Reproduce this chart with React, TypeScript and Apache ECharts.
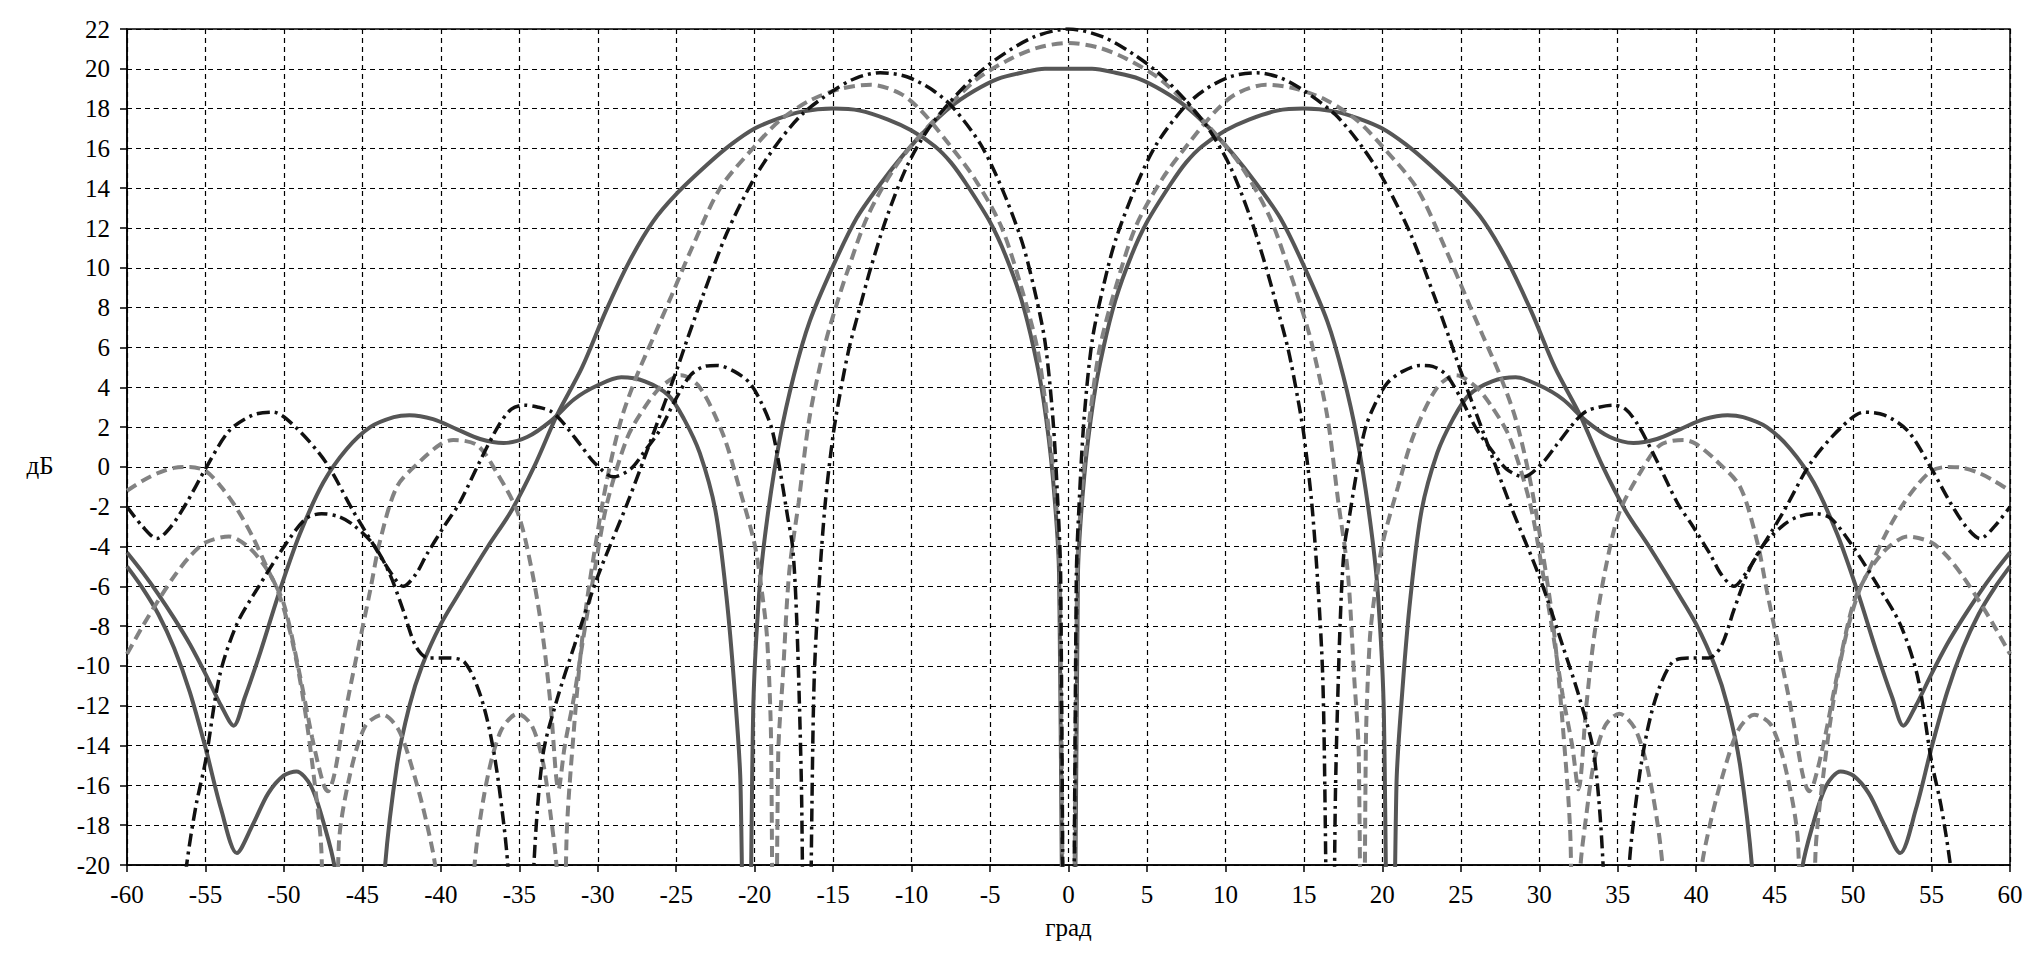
import React, { useEffect, useRef } from "react";
import * as echarts from "echarts";

// ---- data (x in degrees, y in dB) ----
const solidSumLeft = [[-60,-4.3],[-59,-5.3],[-58,-6.4],[-57,-7.6],[-56,-8.9],[-55,-10.4],[-54,-12.0],[-53.2,-13.0],[-52.5,-11.6],[-51.5,-9.3],[-50.3,-6.3],[-49,-3.4],[-47.5,-0.8],[-46,0.9],[-44.5,2.0],[-43,2.5],[-42,2.6],[-40.5,2.4],[-39,1.9],[-37.5,1.4],[-36,1.2],[-34.5,1.5],[-33,2.3],[-31.5,3.4],[-30,4.1],[-28.5,4.5],[-27,4.3],[-25.5,3.6],[-24.5,2.4],[-23.5,0.7],[-22.5,-2.2],[-21.8,-6.5],[-21.3,-11],[-20.9,-16],[-20.5,-40],[-20.1,-12.5],[-19.7,-6.2],[-19.2,-2.6],[-18.4,1.4],[-17.5,4.6],[-16.5,7.3],[-15,10.1],[-13.5,12.5],[-12,14.2],[-10.5,15.7],[-9,17.0],[-7.5,18.1],[-6,18.9],[-4.5,19.5],[-3,19.8],[-1.5,20.0],[0,20.0]];
const solidSumRight = [[1.5,20.0],[3,19.8],[4.5,19.5],[6,18.9],[7.5,18.1],[9,17.0],[10.5,15.7],[12,14.2],[13.5,12.5],[15,10.1],[16.5,7.3],[17.5,4.6],[18.4,1.4],[19.2,-2.6],[19.7,-6.2],[20.1,-12.5],[20.5,-40],[20.9,-16],[21.3,-11],[21.8,-6.5],[22.5,-2.2],[23.5,0.7],[24.5,2.4],[25.5,3.6],[27,4.3],[28.5,4.5],[30,4.1],[31.5,3.4],[33,2.3],[34.5,1.5],[36,1.2],[37.5,1.4],[39,1.9],[40.5,2.4],[42,2.6],[43,2.5],[44.5,2.0],[46,0.9],[47.5,-0.8],[49,-3.4],[50.3,-6.3],[51.5,-9.3],[52.5,-11.6],[53.2,-13.0],[54,-12.0],[55,-10.4],[56,-8.9],[57,-7.6],[58,-6.4],[59,-5.3],[60,-4.3]];

const solidDiffLeft = [[-60,-5.0],[-59,-6.1],[-58,-7.4],[-57,-9.1],[-56,-11.3],[-55,-14.1],[-54,-17.2],[-53,-19.4],[-52,-18.0],[-51,-16.4],[-50,-15.5],[-49.2,-15.3],[-48.3,-16.0],[-47.5,-17.8],[-46.7,-20.5],[-45.2,-40],[-43.6,-20.5],[-42.8,-15],[-42,-12],[-41.2,-10],[-40,-7.9],[-38.8,-6.3],[-37,-4.0],[-35.5,-2.2],[-34,0.1],[-32.6,2.6],[-31,5.0],[-29.5,7.8],[-28,10.3],[-26.5,12.3],[-25,13.7],[-23,15.2],[-21.5,16.2],[-20,17.0],[-18.5,17.5],[-17,17.85],[-15,18.0],[-13.3,17.9],[-11.5,17.45],[-10,16.9],[-8.5,16.1],[-7.5,15.3],[-6.5,14.2],[-5,12.3],[-4,10.6],[-3,8.4],[-2.2,5.9],[-1.6,3.4],[-1,-0.5],[-0.6,-5.5],[0,-60]];
const solidDiffRight = [[0.6,-5.5],[1,-0.5],[1.6,3.4],[2.2,5.9],[3,8.4],[4,10.6],[5,12.3],[6.5,14.2],[7.5,15.3],[8.5,16.1],[10,16.9],[11.5,17.45],[13.3,17.9],[15,18.0],[17,17.85],[18.5,17.5],[20,17.0],[21.5,16.2],[23,15.2],[25,13.7],[26.5,12.3],[28,10.3],[29.5,7.8],[31,5.0],[32.6,2.6],[34,0.1],[35.5,-2.2],[37,-4.0],[38.8,-6.3],[40,-7.9],[41.2,-10],[42,-12],[42.8,-15],[43.6,-20.5],[45.2,-40],[46.7,-20.5],[47.5,-17.8],[48.3,-16.0],[49.2,-15.3],[50,-15.5],[51,-16.4],[52,-18.0],[53,-19.4],[54,-17.2],[55,-14.1],[56,-11.3],[57,-9.1],[58,-7.4],[59,-6.1],[60,-5.0]];

const dashSumLeft = [[-60,-1.2],[-59,-0.7],[-58,-0.3],[-57,-0.05],[-56,0.0],[-55,-0.2],[-54,-1.0],[-53,-2.1],[-52,-3.5],[-51,-5.2],[-50,-6.9],[-49,-10.4],[-48.2,-13.6],[-47.5,-15.9],[-47.2,-16.3],[-46.8,-15.5],[-46.2,-12.8],[-45.6,-10.4],[-44.5,-6.2],[-43.9,-3.8],[-42.8,-1.0],[-41.3,0.3],[-40,1.15],[-39.2,1.35],[-37.7,1.1],[-36.5,-0.2],[-35.1,-2.3],[-34.2,-5.2],[-33.5,-8.5],[-33,-12],[-32.5,-16.2],[-32.1,-14],[-31.5,-11.5],[-30.9,-8.5],[-30.2,-5.2],[-29.4,-1.8],[-28.1,1.5],[-27,3.0],[-26,4.0],[-24.7,4.6],[-23.5,4.0],[-22,1.6],[-21,-1.0],[-20,-3.9],[-19.5,-6.5],[-19.2,-8.7],[-18.95,-14],[-18.75,-40],[-18.5,-14.5],[-18.2,-10.5],[-17.8,-5.3],[-17.2,-1.8],[-16.5,2.5],[-15.5,6.2],[-14.8,8.1],[-14.1,9.8],[-12.8,12.6],[-11.1,15.0],[-9.4,16.7],[-7.7,18.1],[-5.8,19.5],[-3.7,20.5],[-2,21.05],[0,21.3]];
const dashSumRight = [[2,21.05],[3.7,20.5],[5.8,19.5],[7.7,18.1],[9.4,16.7],[11.1,15.0],[12.8,12.6],[14.1,9.8],[14.8,8.1],[15.5,6.2],[16.5,2.5],[17.2,-1.8],[17.8,-5.3],[18.2,-10.5],[18.5,-14.5],[18.75,-40],[18.95,-14],[19.2,-8.7],[19.5,-6.5],[20,-3.9],[21,-1.0],[22,1.6],[23.5,4.0],[24.7,4.6],[26,4.0],[27,3.0],[28.1,1.5],[29.4,-1.8],[30.2,-5.2],[30.9,-8.5],[31.5,-11.5],[32.1,-14],[32.5,-16.2],[33,-12],[33.5,-8.5],[34.2,-5.2],[35.1,-2.3],[36.5,-0.2],[37.7,1.1],[39.2,1.35],[40,1.15],[41.3,0.3],[42.8,-1.0],[43.9,-3.8],[44.5,-6.2],[45.6,-10.4],[46.2,-12.8],[46.8,-15.5],[47.2,-16.3],[47.5,-15.9],[48.2,-13.6],[49,-10.4],[50,-6.9],[51,-5.2],[52,-3.5],[53,-2.1],[54,-1.0],[55,-0.2],[56,0.0],[57,-0.05],[58,-0.3],[59,-0.7],[60,-1.2]];

const dashDiffLeft = [[-60,-9.4],[-59,-8.0],[-58,-6.7],[-57,-5.5],[-56,-4.5],[-55,-3.8],[-53.5,-3.5],[-52.3,-4.0],[-51.3,-4.9],[-50.5,-6.0],[-49.6,-8.3],[-48.8,-11.5],[-48.1,-15.5],[-47.6,-19.5],[-47.1,-40],[-46.5,-19],[-45.8,-15.5],[-44.8,-13.0],[-43.7,-12.45],[-42.7,-13.2],[-41.8,-15.2],[-40.9,-17.9],[-40.3,-20.5],[-39.1,-40],[-37.9,-20.5],[-37.2,-16.3],[-36.2,-13.3],[-35.1,-12.4],[-34.2,-13.0],[-33.5,-14.8],[-33.0,-17.5],[-32.6,-20.5],[-32.3,-40],[-32.0,-19],[-31.5,-13],[-30.9,-8.0],[-30.2,-4.2],[-29.4,-0.6],[-28.5,2.4],[-27.5,4.6],[-26.4,6.6],[-25.3,8.6],[-24,11.0],[-22.2,14.0],[-20,16.1],[-18.4,17.4],[-16.5,18.4],[-14.5,19.0],[-12.6,19.2],[-10.7,18.75],[-9.4,17.9],[-7.7,16.3],[-6,14.5],[-4.3,12.1],[-3,9.0],[-2,6.0],[-1.4,2.8],[-0.9,-0.8],[-0.55,-5.5],[0,-60]];
const dashDiffRight = [[0.55,-5.5],[0.9,-0.8],[1.4,2.8],[2,6.0],[3,9.0],[4.3,12.1],[6,14.5],[7.7,16.3],[9.4,17.9],[10.7,18.75],[12.6,19.2],[14.5,19.0],[16.5,18.4],[18.4,17.4],[20,16.1],[22.2,14.0],[24,11.0],[25.3,8.6],[26.4,6.6],[27.5,4.6],[28.5,2.4],[29.4,-0.6],[30.2,-4.2],[30.9,-8.0],[31.5,-13],[32.0,-19],[32.3,-40],[32.6,-20.5],[33.0,-17.5],[33.5,-14.8],[34.2,-13.0],[35.1,-12.4],[36.2,-13.3],[37.2,-16.3],[37.9,-20.5],[39.1,-40],[40.3,-20.5],[40.9,-17.9],[41.8,-15.2],[42.7,-13.2],[43.7,-12.45],[44.8,-13.0],[45.8,-15.5],[46.5,-19],[47.1,-40],[47.6,-19.5],[48.1,-15.5],[48.8,-11.5],[49.6,-8.3],[50.5,-6.0],[51.3,-4.9],[52.3,-4.0],[53.5,-3.5],[55,-3.8],[56,-4.5],[57,-5.5],[58,-6.7],[59,-8.0],[60,-9.4]];

const dashDotSumLeft = [[-60,-2.0],[-59,-3.0],[-58.1,-3.6],[-57.2,-3.0],[-56.2,-1.8],[-55,-0.1],[-53.5,1.8],[-52,2.6],[-50.7,2.75],[-49.2,1.95],[-47.3,0.2],[-45.6,-2.2],[-44.3,-3.9],[-43.2,-5.3],[-42.4,-6.0],[-41.6,-5.4],[-40.9,-4.4],[-39.8,-3.0],[-38.8,-1.8],[-37.5,0.3],[-36.3,2.1],[-35.5,2.9],[-34.7,3.1],[-33.8,3.0],[-33,2.8],[-32.3,2.3],[-31.1,1.1],[-30.2,0.2],[-29,-0.5],[-27.9,-0.1],[-27,0.8],[-26,1.9],[-25.1,3.3],[-24.1,4.6],[-23.2,5.05],[-22.4,5.1],[-21.3,4.8],[-20.3,4.2],[-19.5,3.1],[-18.9,1.9],[-18.4,-0.1],[-17.9,-2.5],[-17.6,-3.9],[-17.4,-6.2],[-17.2,-10.5],[-17.0,-17],[-16.7,-40],[-16.35,-17],[-16.2,-10.5],[-15.9,-6],[-15.5,-1.8],[-15,1.6],[-14.6,3.5],[-14,5.9],[-13.3,8.0],[-12.6,10],[-11.6,12.5],[-10.3,15.1],[-9,16.9],[-7.7,18.2],[-6,19.6],[-4.3,20.65],[-2.2,21.6],[0,22.0]];
const dashDotSumRight = [[2.2,21.6],[4.3,20.65],[6,19.6],[7.7,18.2],[9,16.9],[10.3,15.1],[11.6,12.5],[12.6,10],[13.3,8.0],[14,5.9],[14.6,3.5],[15,1.6],[15.5,-1.8],[15.9,-6],[16.2,-10.5],[16.35,-17],[16.7,-40],[17.0,-17],[17.2,-10.5],[17.4,-6.2],[17.6,-3.9],[17.9,-2.5],[18.4,-0.1],[18.9,1.9],[19.5,3.1],[20.3,4.2],[21.3,4.8],[22.4,5.1],[23.2,5.05],[24.1,4.6],[25.1,3.3],[26,1.9],[27,0.8],[27.9,-0.1],[29,-0.5],[30.2,0.2],[31.1,1.1],[32.3,2.3],[33,2.8],[33.8,3.0],[34.7,3.1],[35.5,2.9],[36.3,2.1],[37.5,0.3],[38.8,-1.8],[39.8,-3.0],[40.9,-4.4],[41.6,-5.4],[42.4,-6.0],[43.2,-5.3],[44.3,-3.9],[45.6,-2.2],[47.3,0.2],[49.2,1.95],[50.7,2.75],[52,2.6],[53.5,1.8],[55,-0.1],[56.2,-1.8],[57.2,-3.0],[58.1,-3.6],[59,-3.0],[60,-2.0]];

const dashDotDiffLeft = [[-60,-45],[-58,-34],[-56.9,-25],[-56.2,-20],[-55.6,-17],[-55,-14.8],[-54.1,-10.5],[-53,-7.9],[-51.6,-6.0],[-49.9,-3.9],[-48.6,-2.6],[-47.6,-2.35],[-46.5,-2.5],[-45.6,-2.9],[-44.3,-3.9],[-43.3,-5.3],[-42.4,-7.2],[-41.6,-9.0],[-40.8,-9.6],[-39.5,-9.6],[-38.5,-9.8],[-37.6,-11.2],[-36.9,-13.2],[-36.3,-16],[-35.7,-20.5],[-35.0,-40],[-34.1,-20.5],[-33.5,-14.5],[-32.6,-11.7],[-31.5,-9.0],[-30,-5.5],[-28.1,-1.8],[-26.4,1.8],[-25,4.8],[-24.3,6.4],[-23.3,8.6],[-21.8,11.7],[-20.1,14.4],[-18.6,16.2],[-17,17.7],[-15,18.9],[-13.5,19.55],[-12,19.8],[-10.3,19.6],[-8.6,18.9],[-7.3,18.0],[-5.6,16.2],[-4.3,14.1],[-3,11.4],[-2.2,9.0],[-1.5,6.3],[-1.0,2.5],[-0.7,-1.5],[-0.5,-5.5],[0,-60]];
const dashDotDiffRight = [[0.5,-5.5],[0.7,-1.5],[1.0,2.5],[1.5,6.3],[2.2,9.0],[3,11.4],[4.3,14.1],[5.6,16.2],[7.3,18.0],[8.6,18.9],[10.3,19.6],[12,19.8],[13.5,19.55],[15,18.9],[17,17.7],[18.6,16.2],[20.1,14.4],[21.8,11.7],[23.3,8.6],[24.3,6.4],[25,4.8],[26.4,1.8],[28.1,-1.8],[30,-5.5],[31.5,-9.0],[32.6,-11.7],[33.5,-14.5],[34.1,-20.5],[35.0,-40],[35.7,-20.5],[36.3,-16],[36.9,-13.2],[37.6,-11.2],[38.5,-9.8],[39.5,-9.6],[40.8,-9.6],[41.6,-9.0],[42.4,-7.2],[43.3,-5.3],[44.3,-3.9],[45.6,-2.9],[46.5,-2.5],[47.6,-2.35],[48.6,-2.6],[49.9,-3.9],[51.6,-6.0],[53,-7.9],[54.1,-10.5],[55,-14.8],[55.6,-17],[56.2,-20],[56.9,-25],[58,-34],[60,-45]];

const X_MIN = -60, X_MAX = 60, X_STEP = 5;
const Y_MIN = -20, Y_MAX = 22, Y_STEP = 2;
const X_TITLE = "град";
const Y_TITLE = "дБ";

const FONT = "Liberation Serif";

export default function App() {
  const ref = useRef<HTMLDivElement>(null);
  useEffect(() => {
    if (!ref.current) return;
    const chart = echarts.init(ref.current, undefined, { renderer: "svg" });
    const solid = { color: "#565656", width: 4, type: "solid" };
    const dashed = { color: "#828282", width: 4, type: [11, 6] };
    const dashDot = { color: "#111111", width: 3.5, type: [13, 5, 3, 5] };
    const mk = (name: string, data: number[][], ls: any) => ({
      name, type: "line", data, showSymbol: false, symbol: "none", smooth: 0.3,
      lineStyle: ls, clip: true, z: 3,
    });
    chart.setOption({
      animation: false,
      backgroundColor: "#ffffff",
      grid: { left: 127, right: 33, top: 29, bottom: 104, show: true, borderColor: "#000", borderWidth: 1.5, backgroundColor: "transparent" },
      xAxis: {
        type: "value", min: X_MIN, max: X_MAX, interval: X_STEP,
        name: X_TITLE, nameLocation: "middle", nameGap: 50,
        nameTextStyle: { fontFamily: FONT, fontSize: 25, color: "#000" },
        axisLine: { show: true, onZero: false, lineStyle: { color: "#000", width: 1.5 } },
        axisTick: { show: true, inside: false, length: 7, lineStyle: { color: "#000", width: 1.5 } },
        axisLabel: { fontFamily: FONT, fontSize: 25, color: "#000", margin: 17 },
        splitLine: { show: true, lineStyle: { color: "#000", width: 1.2, type: [5, 4] } },
      },
      yAxis: {
        type: "value", min: Y_MIN, max: Y_MAX, interval: Y_STEP,
        axisLine: { show: true, onZero: false, lineStyle: { color: "#000", width: 1.5 } },
        axisTick: { show: true, inside: false, length: 7, lineStyle: { color: "#000", width: 1.5 } },
        axisLabel: { fontFamily: FONT, fontSize: 25, color: "#000", margin: 17 },
        splitLine: { show: true, lineStyle: { color: "#000", width: 1.2, type: [5, 4] } },
      },
      graphic: [
        { type: "text", x: 40, y: 465, style: { text: Y_TITLE, fill: "#000", fontFamily: FONT, fontSize: 25, align: "center", verticalAlign: "middle", textAlign: "center", textVerticalAlign: "middle" } },
      ],
      series: [
        mk("solid-sum", [...solidSumLeft, ...solidSumRight], solid),
        mk("solid-diff", [...solidDiffLeft, ...solidDiffRight], solid),
        mk("dash-sum", [...dashSumLeft, ...dashSumRight], dashed),
        mk("dash-diff", [...dashDiffLeft, ...dashDiffRight], dashed),
        mk("dashdot-sum", [...dashDotSumLeft, ...dashDotSumRight], dashDot),
        mk("dashdot-diff", [...dashDotDiffLeft, ...dashDotDiffRight], dashDot),
      ],
    });
    return () => chart.dispose();
  }, []);
  return (
    <div
      ref={ref}
      style={{ position: "fixed", left: 0, top: 0, width: 2043, height: 969, background: "#fff" }}
    />
  );
}
